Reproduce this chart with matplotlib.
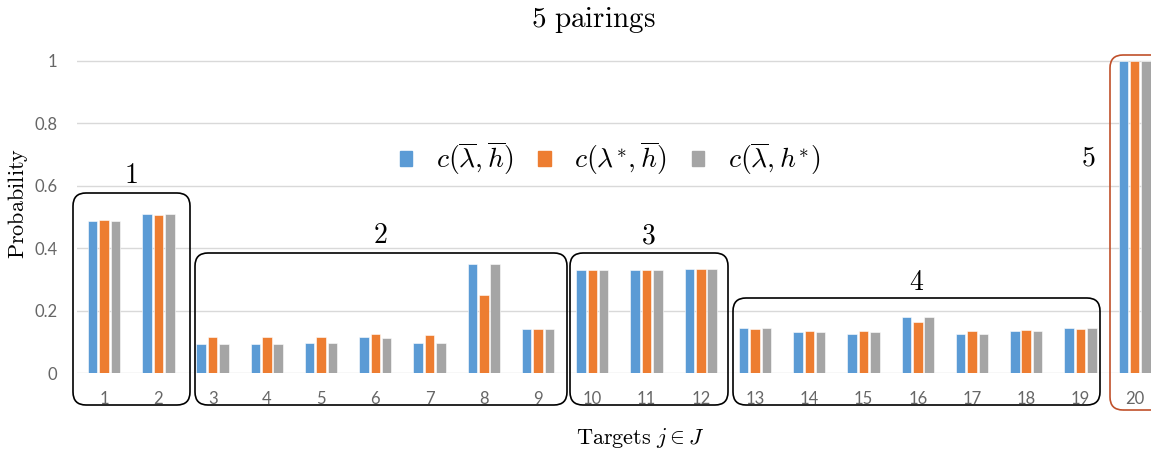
import matplotlib.pyplot as plt
from matplotlib.patches import FancyBboxPatch, Patch
from matplotlib.transforms import IdentityTransform

plt.rcParams['mathtext.fontset'] = 'cm'

targets = [str(i) for i in range(1, 21)]

c_bar_bar = [0.486, 0.509, 0.092, 0.092, 0.097, 0.116, 0.097, 0.348, 0.140, 0.329,
             0.329, 0.333, 0.145, 0.131, 0.125, 0.180, 0.125, 0.135, 0.145, 1.0]
c_star_bar = [0.490, 0.505, 0.116, 0.116, 0.116, 0.125, 0.121, 0.250, 0.140, 0.329,
              0.329, 0.333, 0.141, 0.135, 0.135, 0.162, 0.135, 0.139, 0.141, 1.0]
c_bar_star = [0.486, 0.509, 0.092, 0.092, 0.097, 0.111, 0.097, 0.348, 0.140, 0.329,
              0.329, 0.333, 0.145, 0.131, 0.131, 0.180, 0.125, 0.135, 0.145, 1.0]

series_labels = [r'$c(\overline{\lambda},\overline{h})$',
                 r'$c(\lambda^{*},\overline{h})$',
                 r'$c(\overline{\lambda},h^{*})$']
colors = ['#5B9BD5', '#ED7D31', '#A5A5A5']

# pairing groups (first target, last target) and their labels
groups = [(1, 2), (3, 9), (10, 12), (13, 19), (20, 20)]
group_names = ['1', '2', '3', '4', '5']

W, H = 1151, 453
fig = plt.figure(figsize=(W / 100, H / 100), dpi=100)
ax = fig.add_axes([77 / W, (H - 373) / H, (W - 77) / W, 321.4 / H])

x = list(range(len(targets)))
off = 0.21
bw = 0.175
for k, vals in enumerate([c_bar_bar, c_star_bar, c_bar_star]):
    ax.bar([i + (k - 1) * off for i in x], vals, width=bw, color=colors[k],
           edgecolor='white', linewidth=0.4, zorder=3)

ax.set_xlim(-0.5, 19.3)
ax.set_ylim(0, 1.03)
ax.set_yticks([0, 0.2, 0.4, 0.6, 0.8, 1.0])
ax.set_yticklabels(['0', '0.2', '0.4', '0.6', '0.8', '1'])
ax.set_xticks(x)
ax.set_xticklabels(targets)
ax.grid(axis='y', color='#D9D9D9', linewidth=1, zorder=0)
for s in ax.spines.values():
    s.set_visible(False)
ax.tick_params(axis='both', length=0, labelcolor='#666666', labelsize=12)
ax.tick_params(axis='x', pad=13)
ax.tick_params(axis='y', pad=14)
for lab in ax.get_xticklabels() + ax.get_yticklabels():
    lab.set_family('Lato')

fig.text(593 / W, 1 - 20 / H, r'$\mathrm{5\ pairings}$', ha='center', va='center', fontsize=21)
fig.text(18 / W, 1 - 203 / H, r'$\mathrm{Probability}$', rotation=90, ha='center', va='center', fontsize=16)
fig.text(640 / W, 1 - 438 / H, r'$\mathrm{Targets}\ j \in J$', ha='center', va='center', fontsize=16)

handles = [Patch(color=c) for c in colors]
fig.legend(handles, series_labels, loc='center', bbox_to_anchor=(610 / W, 1 - 158 / H),
           ncol=3, frameon=False, fontsize=20, handlelength=0.45, handleheight=0.45,
           handletextpad=0.85, columnspacing=0.9)

# boxes around the pairings, drawn in pixel coordinates
fig.canvas.draw()
box_px = [(73, 193, 190, 405), (195, 253, 567, 405), (570, 253, 728, 405),
          (733, 298, 1100, 405), (1110, 55, 1165, 410)]
box_colors = ['black', 'black', 'black', 'black', '#C0502A']
label_px = [(131, 175), (380, 235), (648, 235), (917, 282), (1088, 158)]
for (x0, y0, x1, y1), ec, (lx, ly), name in zip(box_px, box_colors, label_px, group_names):
    p = FancyBboxPatch((x0, H - y1), x1 - x0, y1 - y0,
                       boxstyle='round,pad=0,rounding_size=13',
                       transform=IdentityTransform(), fill=False, edgecolor=ec,
                       linewidth=1.2, clip_on=False, zorder=5)
    fig.add_artist(p)
    fig.text(lx / W, 1 - ly / H, r'$\mathrm{' + name + '}$', ha='center', va='center', fontsize=20)

fig.savefig('out.png', dpi=100)
